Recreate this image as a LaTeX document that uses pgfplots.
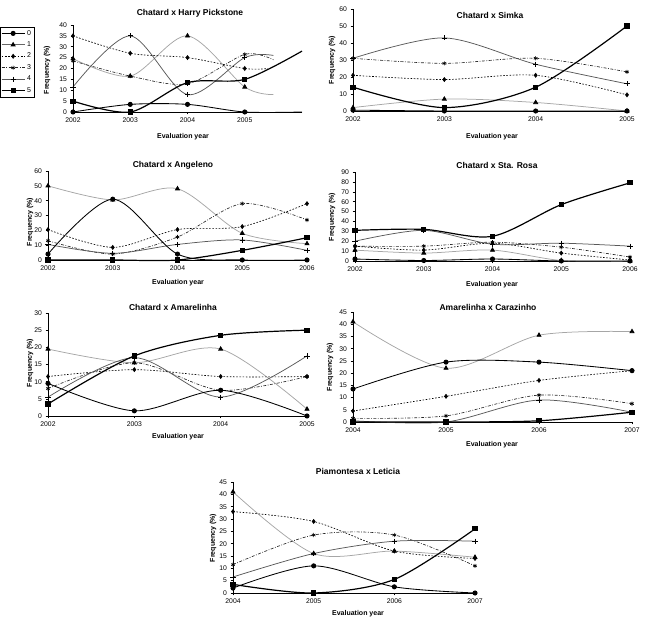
\documentclass[border=0pt]{standalone}
\usepackage{fontspec}
\setmainfont{Liberation Sans}
\usepackage{pgfplots}
\pgfplotsset{compat=1.18}

% series styles: 0 = circles, 1 = triangles, 2 = diamonds, 3 = asterisks, 4 = plus, 5 = squares
\tikzset{
  s0/.style={black, line width=0.85pt, mark=*, mark size=2.1pt, mark options={solid}},
  s1/.style={black!35, line width=0.75pt, mark=triangle*, mark size=2.3pt, mark options={solid, black, fill=black}},
  s2/.style={black, line width=0.65pt, dash pattern=on 1.6pt off 1.6pt, mark=diamond*, mark size=2pt, mark options={solid}},
  s3/.style={black!85, line width=0.65pt, dash pattern=on 3pt off 1.5pt on 0.8pt off 1.5pt, mark=asterisk, mark size=2.1pt, mark options={solid, black}},
  s4/.style={black!65, line width=0.75pt, mark=+, mark size=2.6pt, mark options={solid, black}},
  s5/.style={black, line width=1.2pt, mark=square*, mark size=2pt, mark options={solid}},
  ttl/.style={font=\bfseries\fontsize{8.5}{10}\selectfont},
  lbl/.style={font=\bfseries\fontsize{7}{8}\selectfont},
}

\pgfplotsset{
  panel/.style={
    scale only axis, anchor=south west,
    axis x line*=bottom, axis y line*=left,
    axis line style={black, line width=0.5pt},
    tick align=outside, major tick length=2.5pt,
    tick style={black, line width=0.5pt},
    ticklabel style={font=\fontsize{6.8}{8}\selectfont},
    /pgf/number format/assume math mode=true,
    /pgf/number format/set thousands separator={},
    clip=false, ymin=0,
  },
}

\begin{document}
\begin{tikzpicture}[x=1pt, y=1pt]
\useasboundingbox (0,0) rectangle (645,618);

% ---------- Chatard x Harry Pickstone ----------
\begin{axis}[panel, at={(73pt,506pt)}, width=229pt, height=87pt,
  xmin=2002, xmax=2006, xtick={2002,2003,2004,2005},
  ymax=40, ytick={0,5,...,40},
  every mark/.append style={scale=0.8},
  legend style={at={(axis description cs:-0.319,0.977)}, anchor=north west,
    draw=black, line width=0.4pt, font=\fontsize{7}{8}\selectfont,
    inner sep=1pt, row sep=1.1pt, legend cell align=left},
  legend image code/.code={\draw[mark repeat=2, mark phase=2, #1]
    plot coordinates {(0cm,0cm) (0.4cm,0cm) (0.8cm,0cm)};}]
\addlegendimage{s0}\addlegendentry{0}
\addlegendimage{s1, black!60}\addlegendentry{1}
\addlegendimage{s2}\addlegendentry{2}
\addlegendimage{s3}\addlegendentry{3}
\addlegendimage{s4}\addlegendentry{4}
\addlegendimage{s5}\addlegendentry{5}
\addplot[s1, smooth, forget plot, mark indices={1,2,3,4}] coordinates {(2002,24.5) (2003,16.5) (2004,35) (2005,11.5) (2005.5,8)};
\addplot[s2, smooth, forget plot, mark indices={1,2,3,4}] coordinates {(2002,35) (2003,27) (2004,25) (2005,20) (2005.4,20)};
\addplot[s3, smooth, forget plot, mark indices={1,2,3,4}] coordinates {(2002,23.5) (2003,16.5) (2004,13) (2005,26.5) (2005.5,24)};
\addplot[s4, smooth, forget plot, mark indices={1,2,3,4}] coordinates {(2002,11.5) (2003,35) (2004,8) (2005,25) (2005.5,26)};
\addplot[s0, smooth, forget plot, mark indices={1,2,3,4}] coordinates {(2002,0) (2003,3.5) (2004,3.5) (2005,0) (2006,0)};
\addplot[s5, smooth, forget plot, mark indices={1,2,3,4}] coordinates {(2002,5) (2003,0) (2004,13.5) (2005,15) (2006,28)};
\end{axis}
\node[ttl] at (190,605) {Chatard x Harry Pickstone};
\node[lbl] at (183,481) {Evaluation year};
\node[lbl, rotate=90] at (47,548) {Frequency (\%)};

% ---------- Chatard x Simka ----------
\begin{axis}[panel, at={(353pt,507pt)}, width=274pt, height=102pt,
  xmin=2002, xmax=2005, xtick={2002,2003,2004,2005},
  ymax=60, ytick={0,10,...,60}]
\addplot[s1, smooth] coordinates {(2002,2) (2003,7) (2004,5) (2005,0)};
\addplot[s2, smooth] coordinates {(2002,21) (2003,18.5) (2004,21) (2005,9.5)};
\addplot[s3, smooth] coordinates {(2002,31) (2003,28) (2004,31) (2005,23)};
\addplot[s4, smooth] coordinates {(2002,31) (2003,43) (2004,27.5) (2005,16)};
\addplot[s0, smooth] coordinates {(2002,0.5) (2003,0) (2004,0) (2005,0)};
\addplot[s5, smooth] coordinates {(2002,14) (2003,2) (2004,14) (2005,50)};
\end{axis}
\node[ttl] at (490,603) {Chatard x Simka};
\node[lbl] at (492,481) {Evaluation year};
\node[lbl, rotate=90] at (332,558) {Frequency (\%)};

% ---------- Chatard x Angeleno ----------
\begin{axis}[panel, at={(48pt,358pt)}, width=259pt, height=89pt,
  xmin=2002, xmax=2006, xtick={2002,2003,2004,2005,2006},
  ymax=60, ytick={0,10,...,60}]
\addplot[s1, smooth] coordinates {(2002,50) (2003,40.5) (2004,48) (2005,18) (2006,11)};
\addplot[s2, smooth] coordinates {(2002,20.5) (2003,8.5) (2004,20.5) (2005,22.5) (2006,38)};
\addplot[s3, smooth] coordinates {(2002,13) (2003,4) (2004,15.5) (2005,38) (2006,27)};
\addplot[s4, smooth] coordinates {(2002,10.5) (2003,4.5) (2004,10.5) (2005,13.5) (2006,6.5)};
\addplot[s0, smooth] coordinates {(2002,4) (2003,41) (2004,4) (2005,0) (2006,0)};
\addplot[s5, smooth] coordinates {(2002,0) (2003,0) (2004,0) (2005,6.5) (2006,15)};
\end{axis}
\node[ttl] at (173,453) {Chatard x Angeleno};
\node[lbl] at (178,335) {Evaluation year};
\node[lbl, rotate=90] at (30,396) {Frequency (\%)};

% ---------- Chatard x Sta. Rosa ----------
\begin{axis}[panel, at={(355pt,357pt)}, width=275pt, height=89pt,
  xmin=2002, xmax=2006, xtick={2002,2003,2004,2005,2006},
  ymax=90, ytick={0,10,...,90}]
\addplot[s1, smooth] coordinates {(2002,11) (2003,8) (2004,11) (2005,0.5) (2006,0)};
\addplot[s2, smooth] coordinates {(2002,15) (2003,11) (2004,18) (2005,8) (2006,1)};
\addplot[s3, smooth] coordinates {(2002,15) (2003,15) (2004,19) (2005,14) (2006,4)};
\addplot[s4, smooth] coordinates {(2002,20) (2003,31) (2004,17) (2005,18) (2006,15)};
\addplot[s0, smooth] coordinates {(2002,2) (2003,0.5) (2004,2) (2005,0) (2006,0)};
\addplot[s5, smooth] coordinates {(2002,31) (2003,32) (2004,25) (2005,57) (2006,79)};
\end{axis}
\node[ttl] at (497,453) {Chatard x Sta. Rosa};
\node[lbl] at (492,333) {Evaluation year};
\node[lbl, rotate=90] at (332,401) {Frequency (\%)};

% ---------- Chatard x Amarelinha ----------
\begin{axis}[panel, at={(48pt,202pt)}, width=259pt, height=103pt,
  xmin=2002, xmax=2005, xtick={2002,2003,2004,2005},
  ymax=30, ytick={0,5,...,30}]
\addplot[s1, smooth] coordinates {(2002,19.5) (2003,15.5) (2004,19.5) (2005,2)};
\addplot[s2, smooth] coordinates {(2002,11.5) (2003,13.5) (2004,11.5) (2005,11.5)};
\addplot[s3, smooth] coordinates {(2002,8) (2003,15.5) (2004,7.5) (2005,11.5)};
\addplot[s4, smooth] coordinates {(2002,5.5) (2003,17) (2004,5.5) (2005,17.5)};
\addplot[s0, smooth] coordinates {(2002,9.5) (2003,1.5) (2004,7.5) (2005,0)};
\addplot[s5, smooth] coordinates {(2002,3.5) (2003,17.5) (2004,23.5) (2005,25)};
\end{axis}
\node[ttl] at (173,311) {Chatard x Amarelinha};
\node[lbl] at (178,181) {Evaluation year};
\node[lbl, rotate=90] at (30,255) {Frequency (\%)};

% ---------- Amarelinha x Carazinho ----------
\begin{axis}[panel, at={(353pt,196pt)}, width=279pt, height=110pt,
  xmin=2004, xmax=2007, xtick={2004,2005,2006,2007},
  ymax=45, ytick={0,5,...,45}]
\addplot[s1, smooth] coordinates {(2004,41) (2005,22) (2006,35.5) (2007,37)};
\addplot[s2, smooth] coordinates {(2004,4.5) (2005,10.5) (2006,17) (2007,21)};
\addplot[s3, smooth] coordinates {(2004,1.5) (2005,2.5) (2006,11) (2007,7.5)};
\addplot[s4, smooth] coordinates {(2004,0.5) (2005,0) (2006,9) (2007,4)};
\addplot[s0, smooth] coordinates {(2004,13.5) (2005,24.5) (2006,24.5) (2007,21)};
\addplot[s5, smooth] coordinates {(2004,0) (2005,0) (2006,0.5) (2007,4)};
\end{axis}
\node[ttl] at (488,311) {Amarelinha x Carazinho};
\node[lbl] at (492,173) {Evaluation year};
\node[lbl, rotate=90] at (330,251) {Frequency (\%)};

% ---------- Piamontesa x Leticia ----------
\begin{axis}[panel, at={(233pt,25pt)}, width=242pt, height=111pt,
  xmin=2004, xmax=2007, xtick={2004,2005,2006,2007},
  ymax=45, ytick={0,5,...,45}]
\addplot[s1, smooth] coordinates {(2004,41) (2005,16) (2006,17) (2007,14.5)};
\addplot[s2, smooth] coordinates {(2004,33) (2005,29) (2006,17) (2007,14)};
\addplot[s3, smooth] coordinates {(2004,11.5) (2005,23.5) (2006,23.5) (2007,11)};
\addplot[s4, smooth] coordinates {(2004,6.5) (2005,16) (2006,21) (2007,21)};
\addplot[s0, smooth] coordinates {(2004,2) (2005,11) (2006,2.5) (2007,0)};
\addplot[s5, smooth] coordinates {(2004,3.5) (2005,0) (2006,5.5) (2007,26)};
\end{axis}
\node[ttl] at (358,147) {Piamontesa x Leticia};
\node[lbl] at (358,4) {Evaluation year};
\node[lbl, rotate=90] at (213,80) {Frequency (\%)};
\end{tikzpicture}
\end{document}
